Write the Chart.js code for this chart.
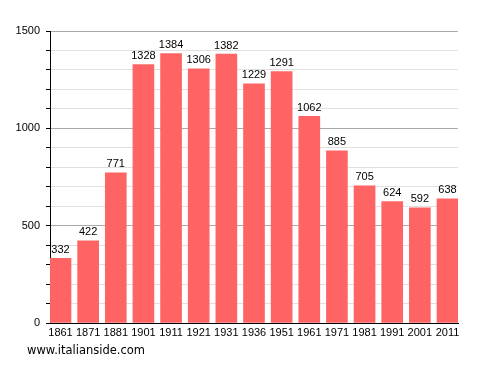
<!DOCTYPE html>
<html>
<head>
<meta charset="utf-8">
<script src="https://cdn.jsdelivr.net/npm/chart.js@4"></script>
<style>
  html, body { margin: 0; padding: 0; background: #fff; }
  .wrap { position: relative; width: 488px; height: 373px; }
  .site { position: absolute; left: 27px; top: 343px; font: 11.5px "DejaVu Sans", sans-serif; color: #000; }
</style>
</head>
<body>
<div class="wrap">
  <canvas id="chart" width="488" height="373"></canvas>
  <div class="site">www.italianside.com</div>
</div>
<script>
const years = ['1861', '1871', '1881', '1901', '1911', '1921', '1931', '1936', '1951', '1961', '1971', '1981', '1991', '2001', '2011']
const population = [332, 422, 771, 1328, 1384, 1306, 1382, 1229, 1291, 1062, 885, 705, 624, 592, 638]
const yTicks = [0, 500, 1000, 1500]

const chartElement = document.querySelector('#chart')
const chartContext = chartElement.getContext('2d')

// numbers above every bar
const barLabels = {
    id: 'barLabels',
    afterDatasetsDraw(chart) {
        const ctx = chart.ctx
        const meta = chart.getDatasetMeta(0)

        ctx.save()
        ctx.font = '11px "Liberation Sans", sans-serif'
        ctx.fillStyle = '#000'
        ctx.textAlign = 'center'
        ctx.textBaseline = 'bottom'

        meta.data.forEach((bar, i) => {
            ctx.fillText(population[i], bar.x, bar.y - 3)
        })

        ctx.restore()
    }
}

new Chart(chartContext, {
    type: 'bar',
    data: {
        datasets: [{
            data: population.map((value, i) => ({ x: i, y: value })),
            backgroundColor: '#ff6464',
            borderWidth: 0,
            barThickness: 21
        }]
    },
    options: {
        responsive: false,
        animation: false,
        layout: { padding: { top: 31, right: 30, left: 0, bottom: 0 } },
        plugins: {
            legend: { display: false },
            tooltip: { enabled: false }
        },
        scales: {
            x: {
                type: 'linear',
                min: -0.38,
                max: 14.38,
                offset: false,
                afterFit: scale => { scale.height = 50 },
                grid: { display: false, drawTicks: false },
                border: { color: '#000', width: 1 },
                ticks: {
                    stepSize: 1,
                    includeBounds: false,
                    color: '#000',
                    padding: 3,
                    maxRotation: 0,
                    autoSkip: false,
                    font: { family: 'Liberation Sans', size: 11 },
                    callback: value => years[value] ?? ''
                }
            },
            y: {
                min: 0,
                max: 1500,
                afterFit: scale => { scale.width = 50 },
                border: { color: '#000', width: 1 },
                grid: {
                    color: c => yTicks.includes(c.tick.value) ? '#aaa' : '#e0e0e0',
                    tickColor: '#000',
                    tickLength: 4
                },
                ticks: {
                    stepSize: 100,
                    color: '#000',
                    padding: 6,
                    font: { family: 'Liberation Sans', size: 11 },
                    callback: value => yTicks.includes(value) ? value : ''
                }
            }
        }
    },
    plugins: [barLabels]
})
</script>
</body>
</html>
